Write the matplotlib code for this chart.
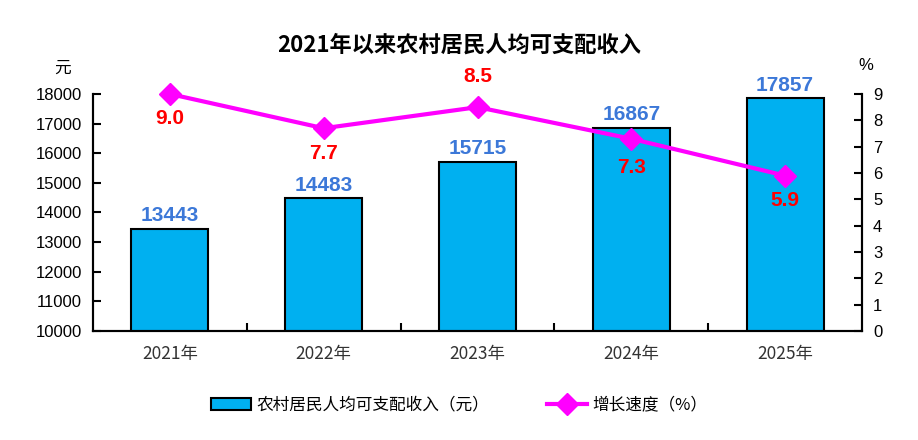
import numpy as np
import matplotlib
matplotlib.use("Agg")
import matplotlib.pyplot as plt
from matplotlib.ticker import FixedLocator

plt.rcParams['font.family'] = ['Liberation Sans', 'Noto Sans CJK SC', 'DejaVu Sans']

years = ['2021年', '2022年', '2023年', '2024年', '2025年']
income = [13443, 14483, 15715, 16867, 17857]
growth = [9.0, 7.7, 8.5, 7.3, 5.9]
# label offset from the point, in points (negative = below)
growth_offset = [-18, -18, 22, -21, -18]

fig = plt.figure(figsize=(9.18, 4.4), dpi=100)
ax = fig.add_axes([93 / 918, 1 - 331 / 440, (862 - 93) / 918, (331 - 94) / 440])
ax2 = ax.twinx()

x = np.arange(len(years))
bars = ax.bar(x, income, width=0.5, color='#00B0F0', edgecolor='black', linewidth=1.5,
              label='农村居民人均可支配收入（元）', zorder=2)
ax.set_xlim(-0.5, len(years) - 0.5)
ax.set_ylim(10000, 18000)
ax.set_yticks(np.arange(10000, 18001, 1000))
ax.set_xticks(x)
ax.set_xticklabels(years, family=['Noto Sans CJK SC'], fontsize=12.5, color='#333333')
ax.xaxis.set_minor_locator(FixedLocator(np.arange(0.5, len(years) - 1, 1)))
ax.tick_params(axis='x', which='major', length=0, pad=10)
ax.tick_params(axis='x', which='minor', direction='in', length=6, width=1.5)
ax.tick_params(axis='y', direction='in', length=6, width=1.5, labelsize=12, pad=8)

for b, v in zip(bars, income):
    ax.text(b.get_x() + b.get_width() / 2, v + 120, str(v), ha='center', va='bottom',
            fontsize=15, fontweight='bold', color='#3C78D8')

line, = ax2.plot(x, growth, color='#FF00FF', linewidth=3, marker='D', markersize=11,
                 label='增长速度（%）', zorder=3, clip_on=False)
ax2.set_ylim(0, 9)
ax2.set_yticks(np.arange(0, 10, 1))
ax2.tick_params(axis='y', direction='in', length=6, width=1.5, labelsize=12, pad=8)

for xi, g, off in zip(x, growth, growth_offset):
    ax2.annotate(f'{g:.1f}', (xi, g), xytext=(0, off), textcoords='offset points',
                 ha='center', va='center', fontsize=15, fontweight='bold', color='#FF0000')

for a in (ax, ax2):
    a.spines['top'].set_visible(False)
    for s in ('left', 'right', 'bottom'):
        a.spines[s].set_linewidth(1.5)

fig.text(62 / 918, 1 - 68 / 440, '元', ha='center', va='center', fontsize=12,
         family=['Noto Sans CJK SC'])
fig.text(866 / 918, 1 - 66 / 440, '%', ha='center', va='center', fontsize=12)
fig.text(0.5, 1 - 45 / 440, '2021年以来农村居民人均可支配收入', ha='center', va='center',
         fontsize=16, fontweight='bold', family=['Noto Sans CJK SC'])

fig.legend(handles=[bars, line], loc='center', bbox_to_anchor=(0.5, 1 - 405 / 440),
           ncol=2, frameon=False, columnspacing=3.5, handlelength=2.4, handletextpad=0.3,
           prop={'family': ['Noto Sans CJK SC'], 'size': 12})

fig.savefig('out.png', dpi=100)
